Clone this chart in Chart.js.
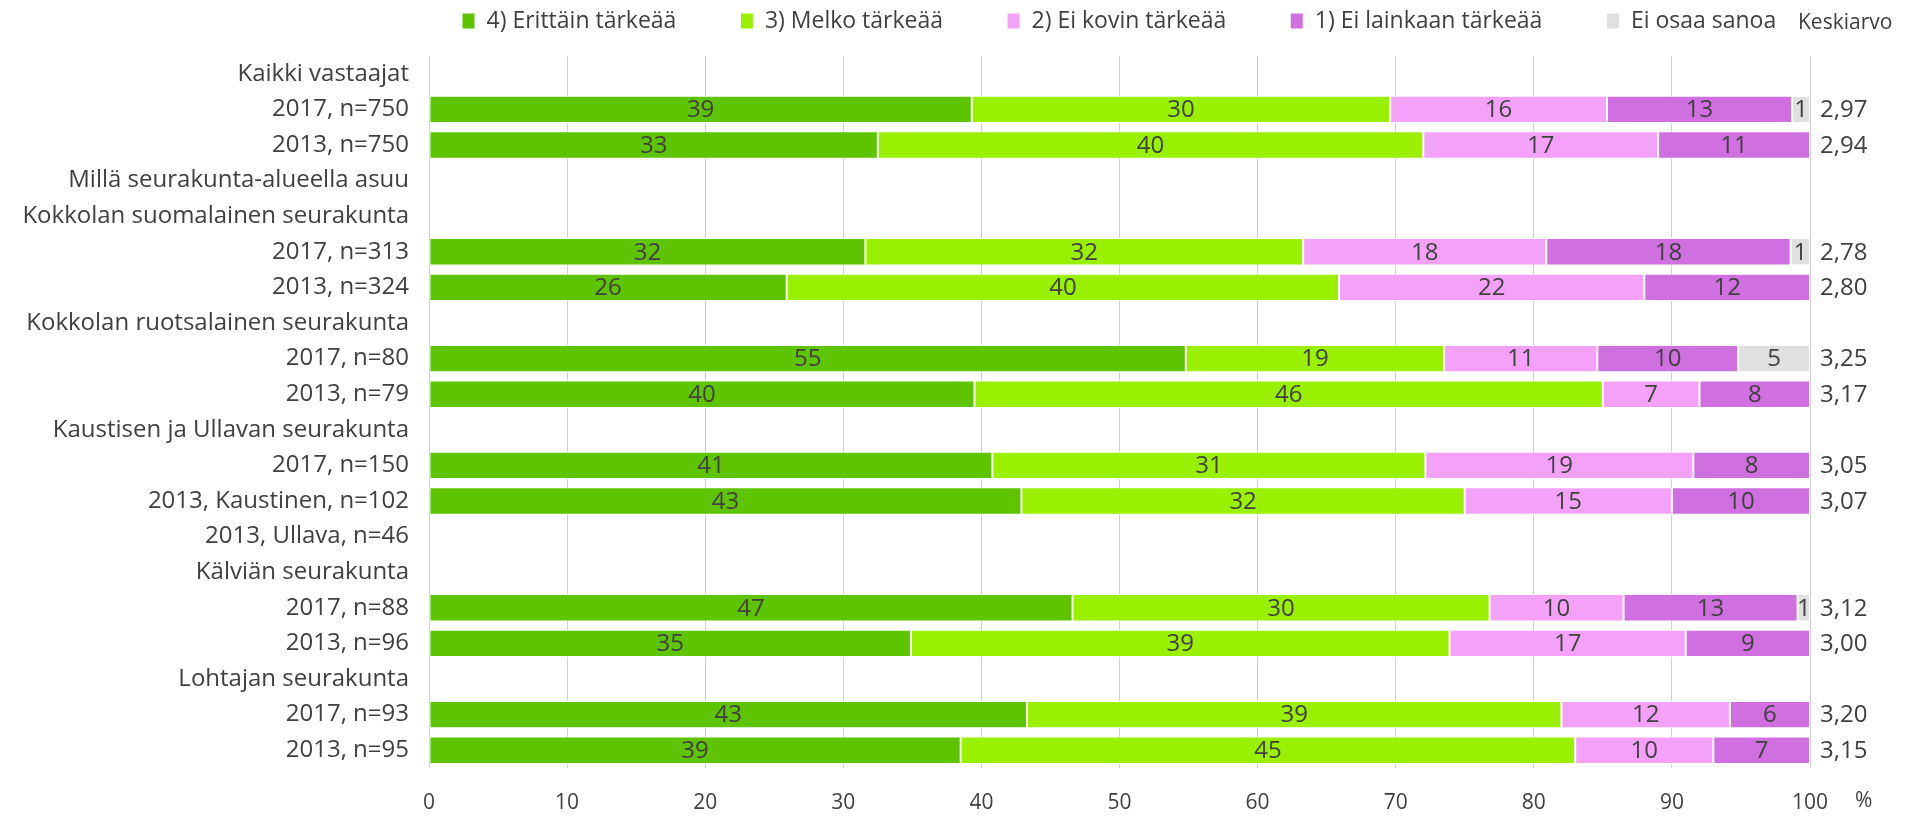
<!DOCTYPE html>
<html><head><meta charset="utf-8">
<script src="https://cdn.jsdelivr.net/npm/chart.js@4.4.1/dist/chart.umd.min.js"></script>
<style>html,body{margin:0;padding:0;background:#fff;overflow:hidden;} canvas{display:block;}</style>
</head><body>
<canvas id="c" width="1928" height="817"></canvas>
<script>
const categories = ['Kaikki vastaajat','2017, n=750','2013, n=750','Millä seurakunta-alueella asuu','Kokkolan suomalainen seurakunta','2017, n=313','2013, n=324','Kokkolan ruotsalainen seurakunta','2017, n=80','2013, n=79','Kaustisen ja Ullavan seurakunta','2017, n=150','2013, Kaustinen, n=102','2013, Ullava, n=46','Kälviän seurakunta','2017, n=88','2013, n=96','Lohtajan seurakunta','2017, n=93','2013, n=95'];
const seriesLabels = ['4) Erittäin tärkeää','3) Melko tärkeää','2) Ei kovin tärkeää','1) Ei lainkaan tärkeää','Ei osaa sanoa'];
const erittain   = [null,39.3,32.5,null,null,31.6,25.9,null,54.8,39.5,null,40.8,42.9,null,null,46.6,34.9,null,43.3,38.5];
const melko      = [null,30.3,39.5,null,null,31.7,40.0,null,18.7,45.5,null,31.35,32.1,null,null,30.2,39.0,null,38.7,44.5];
const eiKovin    = [null,15.7,17.0,null,null,17.6,22.1,null,11.1,7.0,null,19.4,15.0,null,null,9.7,17.1,null,12.2,10.0];
const eiLainkaan = [null,13.4,11.0,null,null,17.7,12.0,null,10.2,8.0,null,8.45,10.0,null,null,12.6,9.0,null,5.8,7.0];
const eiOsaa     = [null,1.3,null,null,null,1.4,null,null,5.2,null,null,null,null,null,null,0.9,null,null,null,null];
const keskiarvo  = [null,2.97,2.94,null,null,2.78,2.80,null,3.25,3.17,null,3.05,3.07,null,null,3.12,3.00,null,3.20,3.15];
const keskiarvoTitle = 'Keskiarvo';
const xUnit = '%';
const colors = ['#5EC400','#99F000','#F4A2F9','#CF6FE0','#E0E0E0'];

const FONT = "'Open Sans', 'Noto Sans', sans-serif";
const TEXT = '#404040';
const BIG = 24;
const LEG = 23;
const SMALL = 21;
Chart.defaults.font.family = FONT;
Chart.defaults.font.size = SMALL;
Chart.defaults.color = TEXT;

const seriesData = [erittain, melko, eiKovin, eiLainkaan, eiOsaa];

const valueLabels = {
  id: 'valueLabels',
  afterDatasetsDraw(chart) {
    const ctx = chart.ctx;
    ctx.save();
    ctx.font = `${BIG}px ${FONT}`;
    ctx.fillStyle = TEXT;
    ctx.textAlign = 'center';
    ctx.textBaseline = 'middle';
    chart.data.datasets.forEach((ds, i) => {
      const meta = chart.getDatasetMeta(i);
      meta.data.forEach((el, j) => {
        const v = ds.data[j];
        if (v === null || v === undefined) return;
        const cx = (el.x + el.base) / 2;
        ctx.fillText(String(Math.round(v)), cx, el.y + 1);
      });
    });
    const ys = chart.scales.y;
    ctx.textAlign = 'left';
    keskiarvo.forEach((v, j) => {
      if (v === null) return;
      ctx.fillText(v.toFixed(2).replace('.', ','), chart.chartArea.right + 10, ys.getPixelForValue(j) + 1);
    });
    ctx.font = `${SMALL}px ${FONT}`;
    ctx.fillText(keskiarvoTitle, chart.chartArea.right - 12, 23);
    ctx.fillText(xUnit, chart.chartArea.right + 45, 801);
    ctx.restore();
  }
};

const legendPlace = {
  id: 'legendPlace',
  beforeLayout(chart) {
    const lg = chart.legend;
    if (!lg || lg._patched) return;
    const origFit = lg.fit.bind(lg);
    lg.fit = function () { origFit(); this.height = 0; };
    lg._patched = true;
  },
  afterLayout(chart) {
    const lg = chart.legend;
    if (!lg) return;
    const pad = lg.options.labels.padding;
    lg.left = 462 - pad;
    lg.right = 1928 + 500;
    lg.width = lg.right - lg.left;
    lg.top = 9.5 - pad;
    lg.bottom = lg.top + 2 * pad + 60;
    lg.height = lg.bottom - lg.top;
  }
};

new Chart(document.getElementById('c'), {
  type: 'bar',
  data: {
    labels: categories,
    datasets: seriesData.map((d, i) => ({
      label: seriesLabels[i],
      data: d,
      backgroundColor: colors[i],
      borderColor: '#ffffff',
      borderWidth: 1,
      borderSkipped: false,
      barPercentage: 0.77,
      categoryPercentage: 1.0
    }))
  },
  plugins: [valueLabels, legendPlace],
  options: {
    indexAxis: 'y',
    responsive: false,
    animation: false,
    devicePixelRatio: 1,
    layout: { padding: { top: 56, right: 118, bottom: 0, left: 0 } },
    plugins: {
      legend: {
        position: 'top',
        align: 'start',
        labels: { boxWidth: 13, boxHeight: 16, padding: 64, color: TEXT, font: { size: LEG } }
      },
      tooltip: { enabled: false }
    },
    scales: {
      x: {
        stacked: true,
        min: 0, max: 100,
        ticks: { stepSize: 10, padding: 22, color: TEXT, font: { size: SMALL } },
        grid: { color: '#D0D0D0', lineWidth: 1, drawTicks: false },
        border: { display: false },
        afterFit(s) { s.height = 49; }
      },
      y: {
        stacked: true,
        ticks: { autoSkip: false, padding: 20, color: TEXT, font: { size: BIG } },
        grid: { display: false, drawTicks: false },
        border: { display: false },
        afterFit(s) { s.width = 429; }
      }
    }
  }
});
</script>
</body></html>
